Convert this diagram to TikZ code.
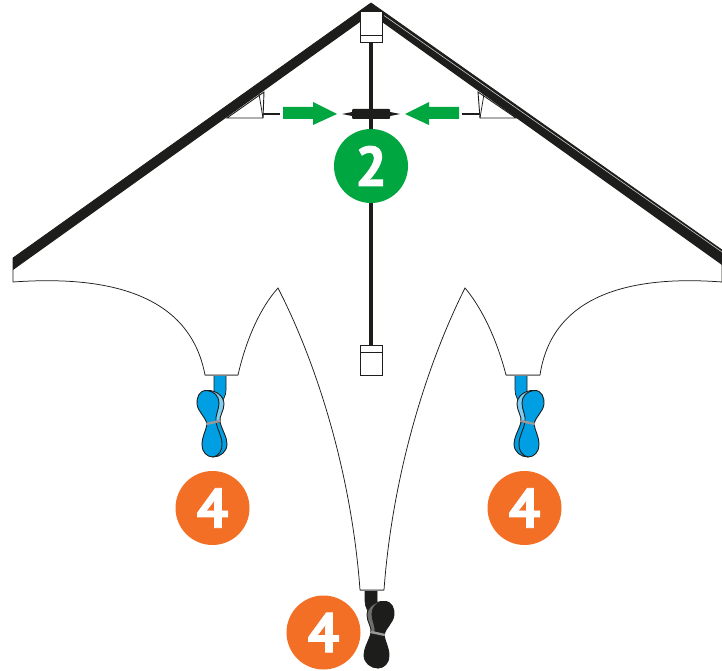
\documentclass[tikz,border=0pt]{standalone}
\usepackage{fontspec}
\setmainfont[BoldFeatures={FakeBold=1.6}]{PT Sans}
\definecolor{sparblack}{HTML}{1D1D1B}
\definecolor{tailblue}{HTML}{009FE3}
\definecolor{taillight}{HTML}{7FCDF0}
\definecolor{tailgrey}{HTML}{6F6F6E}
\definecolor{badgegreen}{HTML}{00A63F}
\definecolor{badgeorange}{HTML}{F36F25}
\tikzset{
    badge/.style={circle,minimum size=74pt,inner sep=0pt,text=white,font=\fontsize{56}{56}\selectfont\bfseries},
    fitting/.style={draw=sparblack,fill=white,line width=0.9pt},
    spar/.style={fill=sparblack,draw=none},
    thinline/.style={draw=sparblack,line width=0.75pt},
    pointer/.style={fill=badgegreen,draw=none}
}
% front colour, upper back colour, lower back colour
\newcommand{\tailbow}[3]{
    \draw[fill=#1,draw=sparblack,line width=0.7pt] (214,370) -- (226,370) -- (226,390)
        .. controls (226,397) and (222,400) .. (221,406) -- (214,398) -- cycle;
    \draw[fill=#2,draw=sparblack,line width=0.9pt] (207,390.5) .. controls (216,390) and (224,396) .. (224,404)
        .. controls (224,411) and (219,416) .. (220,422) -- (214,423) -- cycle;
    \draw[fill=#3,draw=sparblack,line width=0.9pt] (220,422) .. controls (222,430) and (227,437) .. (227,444)
        .. controls (227,452) and (220,457) .. (213,457) -- (212,423) -- cycle;
    \draw[fill=#1,draw=sparblack,line width=0.9pt] (207,390.5) .. controls (199,390) and (196.5,398) .. (197,404)
        .. controls (198,412) and (205,416) .. (207,424)
        .. controls (206,431) and (202,436) .. (202,445)
        .. controls (202,452) and (207,457) .. (213,457)
        .. controls (219,456) and (222.5,450) .. (222,444)
        .. controls (222,436) and (217,429) .. (216,422)
        .. controls (215,415) and (219,410) .. (219,403)
        .. controls (219,396) and (214,391) .. (207,390.5) -- cycle;
    \draw[draw=gray!80,line width=2.4pt] (206,424) -- (220,421);
}
\begin{document}
\begin{tikzpicture}[x=1pt,y=-1pt]
    \useasboundingbox (0,0) rectangle (722,671);

    % tails
    \tailbow{tailblue}{taillight}{tailblue}
    \begin{scope}[shift={(741,0)},xscale=-1]
        \tailbow{tailblue}{taillight}{tailblue}
    \end{scope}
    \begin{scope}[shift={(591,211)},xscale=-1]
        \tailbow{sparblack}{tailgrey}{sparblack}
    \end{scope}

    % sail
    \draw[thinline,fill=white] (13,258) -- (13,282)
        .. controls (110,275) and (190,295) .. (205,375) -- (238,375)
        .. controls (246,340) and (260,308) .. (278,288)
        .. controls (320,370) and (352,480) .. (360,590) -- (384,590)
        .. controls (392,480) and (424,370) .. (465,288)
        .. controls (482,308) and (497,340) .. (506,375) -- (540,375)
        .. controls (552,295) and (630,275) .. (722,282) -- (722,250) -- (371,3) -- cycle;
    \draw[draw=gray,line width=1pt] (205,375) -- (238,375);
    \draw[draw=gray,line width=1pt] (506,375) -- (540,375);
    \draw[draw=gray,line width=1pt] (360,590) -- (384,590);

    % spine and cross spar
    \draw[draw=sparblack,line width=3.6pt] (371,40) -- (371,346);
    \draw[draw=sparblack,line width=2.8pt] (263,114) -- (280,114);
    \draw[draw=sparblack,line width=2.8pt] (462,114) -- (480,114);
    \fill[sparblack] (342,114) -- (352,112) -- (352,116) -- cycle;
    \fill[sparblack] (400,114) -- (390,112) -- (390,116) -- cycle;
    \fill[sparblack,rounded corners=1pt] (352,109) rectangle (390,119);

    % spar pockets
    \draw[thinline,fill=white,line width=0.9pt] (227,118) -- (263,118) -- (264,92) -- cycle;
    \draw[thinline] (263,118) -- (259,94);
    \draw[thinline,fill=white,line width=0.9pt] (516,118) -- (480,118) -- (478,92) -- cycle;
    \draw[thinline] (480,118) -- (484,94);

    % leading edges
    \fill[spar] (13,258) -- (371,3) -- (371,14) -- (360,22) -- (13,270) -- cycle;
    \fill[spar] (371,3) -- (722,250) -- (722,265) -- (382,22) -- (371,14) -- cycle;
    \draw[draw=gray!40,line width=0.6pt] (384,15.5) -- (722,252);

    % nose and tail fittings
    \draw[fitting] (360,11.5) rectangle (382.5,35);
    \draw[fitting] (360,35) rectangle (382.5,42);
    \draw[fitting] (360,345) rectangle (382.5,375);
    \draw[thinline] (360,352) -- (382.5,352);

    % pointers
    \fill[pointer] (283,107) -- (313,107) -- (313,102) -- (337,114) -- (313,125) -- (313,119) -- (283,119) -- cycle;
    \fill[pointer] (459,107) -- (429,107) -- (429,102) -- (405,114) -- (429,125) -- (429,119) -- (459,119) -- cycle;

    % badges
    \node[badge,fill=badgegreen] (stepTwo) at (371,166) {2};
    \node[badge,fill=badgeorange] (tailLeft) at (212.5,508) {4};
    \node[badge,fill=badgeorange] (tailRight) at (524.5,508) {4};
    \node[badge,fill=badgeorange] (tailMiddle) at (323.5,632.5) {4};
\end{tikzpicture}
\end{document}
